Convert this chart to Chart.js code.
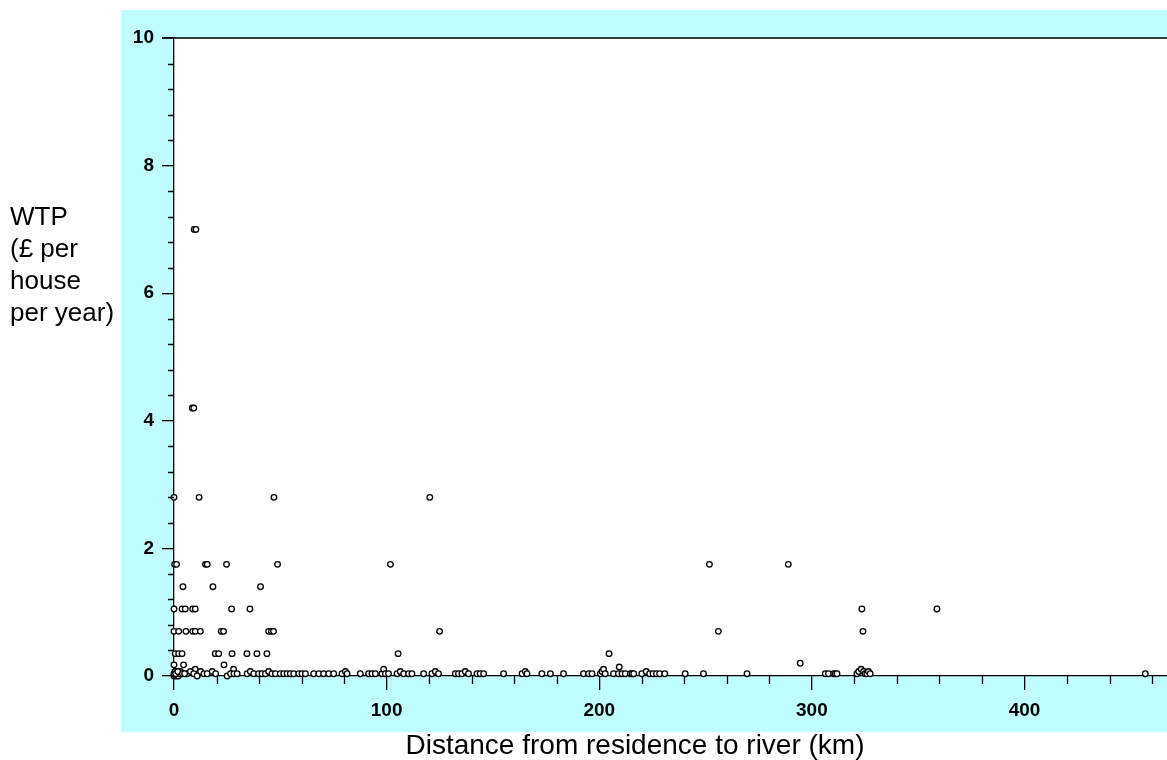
<!DOCTYPE html>
<html>
<head>
<meta charset="utf-8">
<script src="https://cdn.jsdelivr.net/npm/chart.js@4"></script>
<style>
  body { margin: 0; background: #ffffff; }
  canvas { display: block; }
</style>
</head>
<body>
<canvas id="grafico" width="1167" height="760"></canvas>
<script>
// WTP levels (the answers are multiples of 0.35 £)
var wtpLevels = [7.0, 4.2, 2.8, 1.75, 1.4, 1.05, 0.7, 0.35];

// distances (km) of the respondents at each level, same order as wtpLevels
var distAt7 = [9.5, 10.3];
var distAt42 = [8.6, 9.3];
var distAt28 = [0, 11.8, 47, 120.3];
var distAt175 = [0.3, 1.2, 14.8, 15.6, 24.7, 48.7, 101.8, 251.8, 288.9];
var distAt14 = [4.2, 18.3, 40.7];
var distAt105 = [0, 3.8, 5.3, 8.8, 10, 27.1, 35.7, 323.5, 358.8];
var distAt07 = [0, 2.2, 5.6, 8.8, 10, 12.4, 22.2, 23.3, 44.5, 45.8, 46.8, 124.9, 256, 324];
var distAt035 = [0.6, 2.2, 3.8, 19.4, 21, 27.3, 34.3, 39, 43.7, 105.4, 204.6];

// the small answers, close to zero
var lowDist = [
    0, 0, 0.5, 1, 1.5, 2, 2.5, 3, 0, 4.5, 10, 23.5, 28,
    6.1, 7.7, 9.3, 10.9, 12.5, 14.1, 15.6, 18, 19.6, 25, 26.6, 28.2, 29.7,
    34.4, 35.9, 37.5, 39.8, 41.4, 43, 44.5, 46.1, 47.7, 50, 51.6, 53.2, 54.7, 56.3,
    58.7, 60.2, 61.8, 65.7, 68.1, 70.4, 72.8, 75.1,
    79, 80.6, 81.4, 87.6, 91.5, 93.1, 94.7, 97.8, 98.6, 99.4, 100.9,
    104.9, 106.4, 108, 110.3, 111.9, 117.4, 121.3, 122.9, 124.4,
    132.3, 133.8, 135.4, 137, 138.5, 142.5, 144, 145.6, 155,
    163.7, 165.2, 166, 173, 177, 183.2, 192.6, 195, 196.6, 200.5, 201.3, 202, 202.8, 206.7,
    209, 210.7, 212.2, 214.6, 215.4, 216.2, 220, 222.1, 223.7, 225.3, 226.9, 228.4, 230.8, 240.4,
    249, 269.5, 306.3, 307.8, 310.2, 311, 311.8, 321.2, 322, 323.2, 324.3, 325, 325.8, 326.6, 327.4,
    456.8, 209.4, 294.5, 0.8, 1.8, 4, 5
];
var lowWtp = [
    0, 0.035, 0.07, 0, 0.035, 0, 0.035, 0.07, 0.175, 0.175, 0.105, 0.175, 0.105,
    0.035, 0.07, 0.035, 0, 0.07, 0.035, 0.035, 0.07, 0.035, 0, 0.035, 0.035, 0.035,
    0.035, 0.07, 0.035, 0.035, 0.035, 0.035, 0.07, 0.035, 0.035, 0.035, 0.035, 0.035, 0.035, 0.035,
    0.035, 0.035, 0.035, 0.035, 0.035, 0.035, 0.035, 0.035,
    0.035, 0.07, 0.035, 0.035, 0.035, 0.035, 0.035, 0.035, 0.105, 0.035, 0.035,
    0.035, 0.07, 0.035, 0.035, 0.035, 0.035, 0.035, 0.07, 0.035,
    0.035, 0.035, 0.035, 0.07, 0.035, 0.035, 0.035, 0.035, 0.035,
    0.035, 0.07, 0.035, 0.035, 0.035, 0.035, 0.035, 0.035, 0.035, 0.035, 0.07, 0.105, 0.035, 0.035,
    0.035, 0.035, 0.035, 0.035, 0.035, 0.035, 0.035, 0.07, 0.035, 0.035, 0.035, 0.035, 0.035, 0.035,
    0.035, 0.035, 0.035, 0.035, 0.035, 0.035, 0.035, 0.035, 0.07, 0.105, 0.07, 0.035, 0.035, 0.07, 0.035,
    0.035, 0.14, 0.2, 0.035, 0.07, 0.035, 0.035
];

var xTicks = [0, 100, 200, 300, 400];
var yTicks = [0, 2, 4, 6, 8, 10];

var titoloY = ["WTP", "(£ per", "house", "per year)"];
var titoloX = "Distance from residence to river (km)";

// build the points
var punti = [];
var distPerLivello = [distAt7, distAt42, distAt28, distAt175, distAt14, distAt105, distAt07, distAt035];
for (var i = 0; i < wtpLevels.length; i++) {
    for (var j = 0; j < distPerLivello[i].length; j++) {
        punti.push({ x: distPerLivello[i][j], y: wtpLevels[i] });
    }
}
for (var k = 0; k < lowDist.length; k++) {
    punti.push({ x: lowDist[k], y: lowWtp[k] });
}

var FONT = "'Liberation Sans', Arial, sans-serif";

// cyan panel, top frame line, minor ticks and the axis titles
var sfondo = {
    id: 'sfondo',
    beforeDraw: function (chart) {
        var c = chart.ctx, a = chart.chartArea;
        c.save();
        c.fillStyle = '#ffffff';
        c.fillRect(0, 0, chart.width, chart.height);
        c.fillStyle = '#c0ffff';
        c.fillRect(a.left - 53, a.top - 28, chart.width - (a.left - 53), a.bottom - a.top + 84);
        c.fillStyle = '#ffffff';
        c.fillRect(a.left, a.top, a.right - a.left, a.bottom - a.top);
        c.restore();
    },
    afterDraw: function (chart) {
        var c = chart.ctx, a = chart.chartArea;
        var sx = chart.scales.x, sy = chart.scales.y;
        c.save();
        c.strokeStyle = '#000';
        c.lineWidth = 1.3;
        c.beginPath();
        c.moveTo(a.left - 12, a.top);
        c.lineTo(a.right, a.top);
        // minor ticks
        for (var v = 20; v < sx.max; v += 20) {
            if (v % 100 === 0) continue;
            var px = Math.round(sx.getPixelForValue(v)) + 0.5;
            c.moveTo(px, a.bottom);
            c.lineTo(px, a.bottom + 8);
        }
        for (var w = 0.4; w < sy.max; w += 0.4) {
            if (Math.abs(w / 2 - Math.round(w / 2)) < 0.01) continue;
            var py = Math.round(sy.getPixelForValue(w)) + 0.5;
            c.moveTo(a.left - 6, py);
            c.lineTo(a.left, py);
        }
        c.stroke();

        c.fillStyle = '#000';
        c.font = '26px ' + FONT;
        c.textAlign = 'left';
        c.textBaseline = 'middle';
        for (var r = 0; r < titoloY.length; r++) {
            c.fillText(titoloY[r], 10, 218 + r * 32);
        }
        c.font = '28px ' + FONT;
        c.textAlign = 'center';
        c.fillText(titoloX, 635, 746);
        c.restore();
    }
};

var ctx = document.getElementById('grafico');
var chart = new Chart(ctx, {
    type: 'scatter',
    data: {
        datasets: [{
            data: punti,
            pointRadius: 2.8,
            pointHoverRadius: 2.8,
            borderWidth: 1.3,
            borderColor: '#000000',
            backgroundColor: '#ffffff',
            clip: false
        }]
    },
    options: {
        responsive: false,
        animation: false,
        devicePixelRatio: 1,
        layout: { autoPadding: false, padding: { top: 38, left: 0, right: 0, bottom: 0 } },
        plugins: {
            legend: { display: false },
            tooltip: { enabled: false }
        },
        scales: {
            x: {
                type: 'linear',
                min: 0,
                max: 467,
                afterBuildTicks: function (scale) {
                    scale.ticks = xTicks.map(function (v) { return { value: v }; });
                },
                afterFit: function (scale) { scale.height = 84; },
                grid: { drawOnChartArea: false, color: '#000', lineWidth: 1.3, tickLength: 14 },
                border: { display: true, color: '#000', width: 1.3 },
                ticks: {
                    color: '#000',
                    padding: 9,
                    maxRotation: 0,
                    font: { family: FONT, size: 19, weight: 'bold' }
                }
            },
            y: {
                type: 'linear',
                min: 0,
                max: 10,
                afterBuildTicks: function (scale) {
                    scale.ticks = yTicks.map(function (v) { return { value: v }; });
                },
                afterFit: function (scale) { scale.width = 174; },
                grid: { drawOnChartArea: false, color: '#000', lineWidth: 1.3, tickLength: 12 },
                border: { display: true, color: '#000', width: 1.3 },
                ticks: {
                    color: '#000',
                    padding: 8,
                    font: { family: FONT, size: 19, weight: 'bold' }
                }
            }
        }
    },
    plugins: [sfondo]
});
</script>
</body>
</html>
